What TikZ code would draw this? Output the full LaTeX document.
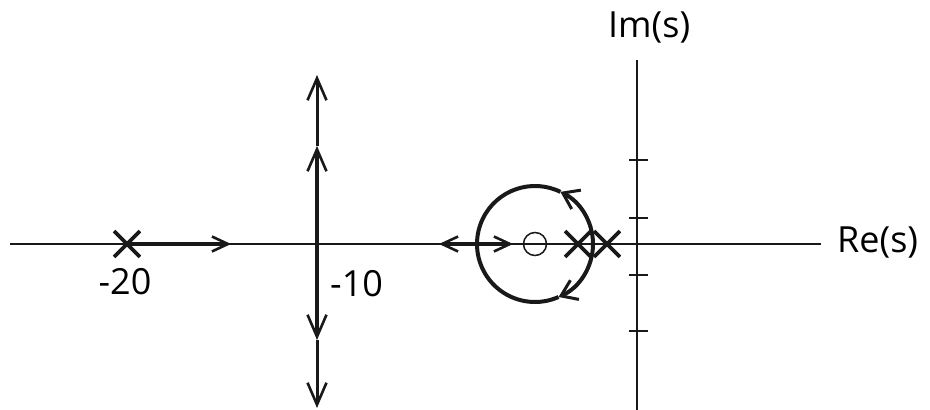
\documentclass[tikz,border=0pt]{standalone}
\usepackage{fontspec}
\setmainfont{Open Sans}
\usetikzlibrary{arrows.meta,shapes.misc}
\begin{document}
\begin{tikzpicture}[x=1pt,y=1pt,
  axis/.style={line width=1.5pt,black!90},
  locus/.style={line width=4pt,black!90},
  thinlocus/.style={line width=3pt,black!90},
  harrow/.style={-{Straight Barb[length=16pt,width=15pt,line width=2.6pt]}},
  varrow/.style={-{Straight Barb[length=22pt,width=19pt,line width=2.6pt]}},
  carrow/.style={-{Straight Barb[length=15pt,width=21pt,line width=3pt]}},
  pole/.style={draw,cross out,minimum size=22pt,line width=3.8pt,black!90,inner sep=0pt},
  zero/.style={draw,circle,minimum size=23pt,line width=1.5pt,black!90,inner sep=0pt},
  lbl/.style={font=\fontsize{36}{42}\selectfont,inner sep=0pt,text=black},
  tick/.style={line width=1.5pt,black!90}]
\useasboundingbox (0,0) rectangle (930,410);
% axes
\coordinate (reL) at (10,166);
\coordinate (reR) at (821,166);
\coordinate (imT) at (637,350);
\coordinate (imB) at (637,0);
\draw[axis] (reL) -- (reR);
\draw[axis] (imB) -- (imT);
\foreach \t/\yy in {1/250,2/192,3/135,4/79}{
  \coordinate (tl\t) at (629,\yy);
  \coordinate (tr\t) at (648,\yy);
  \draw[tick] (tl\t) -- (tr\t);
}
\node[lbl,anchor=base west] (re) at (837,157) {Re(s)};
\node[lbl,anchor=base west] (im) at (608,372) {Im(s)};
% poles and zero
\node[pole] (p20) at (127,166) {};
\node[pole] (p1) at (578,166) {};
\node[pole] (p2) at (607,166) {};
\node[zero] (z) at (535,166) {};
\node[lbl,anchor=base] (l20) at (125,115) {-20};
\node[lbl,anchor=base west] (l10) at (330,113) {-10};
% locus from -20
\coordinate (a20) at (231,166);
\draw[locus,harrow] (p20.center) -- (a20);
% vertical locus at -10
\coordinate (v0) at (317,166);
\coordinate (vu1) at (317,264);
\coordinate (vu2) at (317,335);
\coordinate (vd1) at (317,70);
\coordinate (vd2) at (317,2);
\draw[locus,varrow] (v0) -- (vu1);
\draw[thinlocus,varrow] (vu1) -- (vu2);
\draw[locus,varrow] (v0) -- (vd1);
\draw[thinlocus,varrow] (vd1) -- (vd2);
% circle
\coordinate (cR) at (593,166);
\coordinate (cL) at (477,166);
\draw[locus,carrow] (cR) arc[start angle=0,end angle=64,radius=58pt] coordinate (cu);
\draw[locus] (cu) arc[start angle=64,end angle=180,radius=58pt];
\draw[locus,carrow] (cR) arc[start angle=0,end angle=-66,radius=58pt] coordinate (cd);
\draw[locus] (cd) arc[start angle=-66,end angle=-180,radius=58pt];
% break-in segments
\coordinate (bl) at (439,166);
\coordinate (br) at (513,166);
\draw[locus,harrow] (cL) -- (bl);
\draw[locus,harrow] (cL) -- (br);
\end{tikzpicture}
\end{document}
